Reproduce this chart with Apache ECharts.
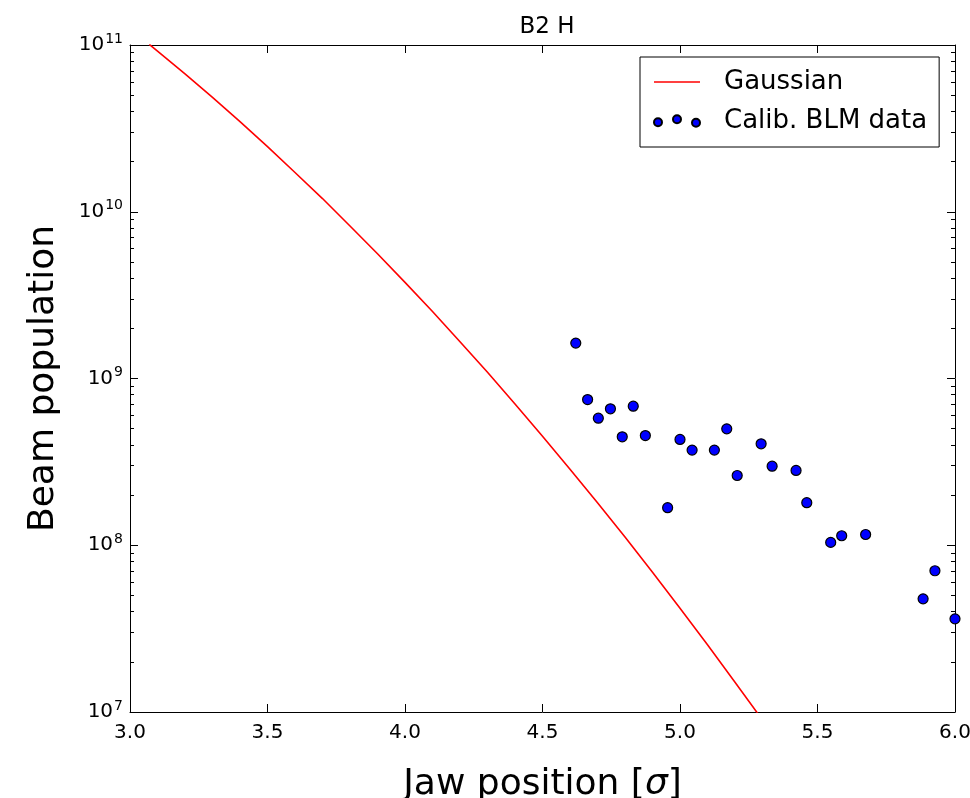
<!DOCTYPE html>
<html>
<head>
<meta charset="utf-8">
<script src="https://cdn.jsdelivr.net/npm/echarts@6/dist/echarts.min.js"></script>
<style>html,body{margin:0;padding:0;background:#fff;}#c{width:970px;height:798px;}</style>
</head>
<body>
<div id="c"></div>
<script>
// Gaussian curve
var gaussX = [3.07, 3.1, 3.2, 3.3, 3.4, 3.5, 3.6, 3.7, 3.8, 3.9, 4.0, 4.1, 4.2, 4.3, 4.4, 4.5, 4.6, 4.7, 4.8, 4.9, 5.0, 5.1, 5.2, 5.3];
var gaussY = [1.01e11, 9.2e10, 6.71e10, 4.85e10, 3.47e10, 2.46e10, 1.72e10, 1.20e10, 8.22e9, 5.60e9, 3.77e9, 2.52e9, 1.66e9, 1.09e9, 7.03e8, 4.51e8, 2.86e8, 1.80e8, 1.12e8, 6.88e7, 4.19e7, 2.53e7, 1.51e7, 8.95e6];
// Calib. BLM data points
var blmX = [4.621, 4.664, 4.703, 4.747, 4.790, 4.830, 4.874, 4.955, 5.000, 5.044, 5.125, 5.170, 5.208, 5.295, 5.335, 5.422, 5.461, 5.548, 5.588, 5.675, 5.884, 5.927, 6.000];
var blmY = [1.63e9, 7.48e8, 5.78e8, 6.58e8, 4.47e8, 6.82e8, 4.55e8, 1.68e8, 4.31e8, 3.72e8, 3.72e8, 4.99e8, 2.62e8, 4.06e8, 2.98e8, 2.81e8, 1.80e8, 1.04e8, 1.14e8, 1.16e8, 4.77e7, 7.03e7, 3.62e7];
var xTicks = [3.0, 3.5, 4.0, 4.5, 5.0, 5.5, 6.0];
var yDecades = [7, 8, 9, 10, 11];

var minorLogs = [];
for (var d = 0; d < yDecades.length - 1; d++) {
  for (var k = 2; k <= 9; k++) minorLogs.push(yDecades[d] + Math.log10(k));
}

var FONT = 'DejaVu Sans';
var chart = echarts.init(document.getElementById('c'), null, {renderer: 'canvas'});

var gaussData = gaussX.map(function (x, i) { return [x, gaussY[i]]; });
var blmData = blmX.map(function (x, i) { return [x, blmY[i]]; });

var lineAxis = {show: true, lineStyle: {color: '#000', width: 1}};

chart.setOption({
  animation: false,
  backgroundColor: '#fff',
  title: {
    text: 'B2 H',
    left: 542, top: 11, textAlign: 'center',
    textStyle: {fontFamily: FONT, fontSize: 23, fontWeight: 'normal', color: '#000'}
  },
  grid: {left: 130, right: 15, top: 45, bottom: 86, containLabel: false, outerBoundsMode: 'none'},
  legend: {
    orient: 'vertical',
    left: 640, top: 57,
    padding: [12, 12, 13, 13],
    itemGap: 13,
    itemWidth: 46, itemHeight: 12,
    backgroundColor: '#fff',
    borderColor: '#000', borderWidth: 1, borderRadius: 0,
    textStyle: {fontFamily: FONT, fontSize: 26, color: '#000', padding: [0, 0, 0, 19]},
    data: [
      {name: 'Gaussian', icon: 'path://M0,0L40,0L40,1.5L0,1.5Z'},
      {name: 'Calib. BLM data', icon: 'path://M0,7a4,4 0 1,0 8,0a4,4 0 1,0 -8,0 M19,4a4,4 0 1,0 8,0a4,4 0 1,0 -8,0 M38,7.5a4,4 0 1,0 8,0a4,4 0 1,0 -8,0'}
    ]
  },
  xAxis: [
    {
      type: 'value', min: 3, max: 6, interval: 0.5, position: 'bottom',
      name: 'Jaw position [{i|σ}]', nameLocation: 'middle', nameGap: 55,
      nameTextStyle: {fontFamily: FONT, fontSize: 36, color: '#000',
        rich: {i: {fontFamily: FONT, fontSize: 36, fontStyle: 'italic', color: '#000'}}},
      axisLine: lineAxis,
      axisTick: {show: true, inside: true, length: 8, lineStyle: {color: '#000'}},
      axisLabel: {fontFamily: FONT, fontSize: 20, color: '#000', margin: 11,
        formatter: function (v) { return v.toFixed(1); }},
      splitLine: {show: false}
    },
    {
      type: 'value', min: 3, max: 6, interval: 0.5, position: 'top',
      axisLine: lineAxis,
      axisTick: {show: true, inside: true, length: 8, lineStyle: {color: '#000'}},
      axisLabel: {show: false}, splitLine: {show: false}
    }
  ],
  yAxis: [
    {
      type: 'log', logBase: 10, min: 1e7, max: 1e11, position: 'left',
      name: 'Beam population', nameLocation: 'middle', nameGap: 68, nameRotate: 90,
      nameTextStyle: {fontFamily: FONT, fontSize: 36, color: '#000'},
      axisLine: lineAxis,
      axisTick: {show: true, inside: true, length: 8, lineStyle: {color: '#000'}},
      axisLabel: {
        margin: 7,
        formatter: function (v) { return '{b|10}{s|' + Math.round(Math.log10(v)) + '}'; },
        rich: {
          b: {fontFamily: FONT, fontSize: 20, color: '#000', lineHeight: 22},
          s: {fontFamily: FONT, fontSize: 14, color: '#000', verticalAlign: 'top', padding: [0, 0, 12, 1]}
        }
      },
      splitLine: {show: false}
    },
    {
      type: 'value', min: 7, max: 11, position: 'left',
      axisLine: {show: false},
      axisTick: {show: true, inside: true, length: 4, customValues: minorLogs, lineStyle: {color: '#000'}},
      axisLabel: {show: false}, splitLine: {show: false}
    },
    {
      type: 'log', logBase: 10, min: 1e7, max: 1e11, position: 'right',
      axisLine: lineAxis,
      axisTick: {show: true, inside: true, length: 8, lineStyle: {color: '#000'}},
      axisLabel: {show: false}, splitLine: {show: false}
    },
    {
      type: 'value', min: 7, max: 11, position: 'right',
      axisLine: {show: false},
      axisTick: {show: true, inside: true, length: 4, customValues: minorLogs, lineStyle: {color: '#000'}},
      axisLabel: {show: false}, splitLine: {show: false}
    }
  ],
  series: [
    {
      name: 'Gaussian', type: 'line', xAxisIndex: 0, yAxisIndex: 0,
      data: gaussData, smooth: false, symbol: 'none', showSymbol: false, clip: true,
      lineStyle: {color: '#ff0000', width: 1.6},
      itemStyle: {color: '#ff0000'}
    },
    {
      name: 'Calib. BLM data', type: 'scatter', xAxisIndex: 0, yAxisIndex: 0,
      data: blmData, symbol: 'circle', symbolSize: 10, clip: false,
      itemStyle: {color: '#0000ff', borderColor: '#000', borderWidth: 1.2, opacity: 1}
    }
  ]
});
</script>
</body>
</html>
